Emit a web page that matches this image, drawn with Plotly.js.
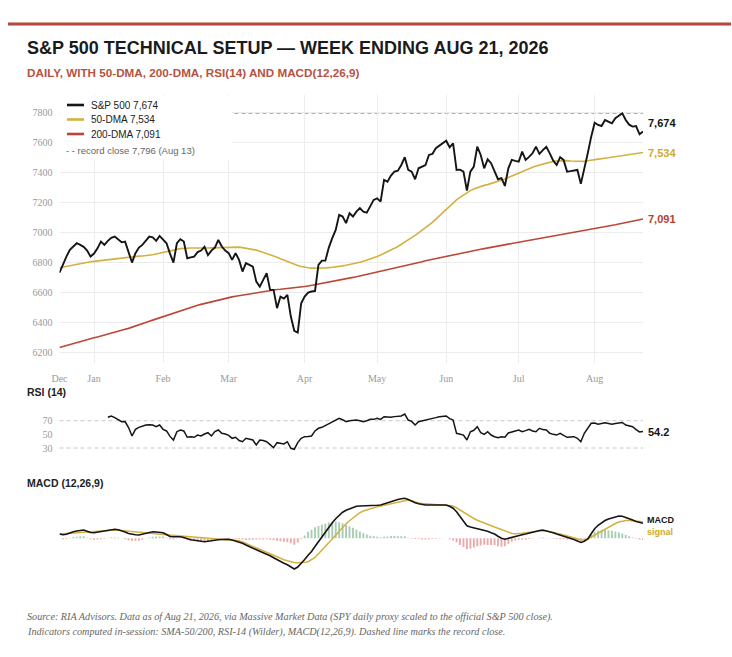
<!DOCTYPE html>
<html>
<head>
<meta charset="utf-8">
<script src="https://cdn.plot.ly/plotly-3.0.1.min.js"></script>
<style>
html,body{margin:0;padding:0;background:#fff;}
#chart{width:732px;height:657px;}
</style>
</head>
<body>
<div id="chart"></div>
<script>
// ---------- DATA ----------
const monthTicks = [0, 10, 30, 49, 71, 92, 112, 133, 155];
const monthLabels = ['Dec', 'Jan', 'Feb', 'Mar', 'Apr', 'May', 'Jun', 'Jul', 'Aug'];
const priceTicks = [6200, 6400, 6600, 6800, 7000, 7200, 7400, 7600, 7800];
const rsiTicks = [30, 50, 70];
const rsiBands = [70, 30];
const recordClose = 7796;
const recordDate = 'Aug 13';

const price = [6733,6790,6840,6885,6905,6929,6918,6905,6880,6840,
6860,6895,6940,6918,6945,6965,6973,6955,6935,6940,
6870,6800,6863,6900,6918,6945,6973,6968,6945,6978,
6955,6929,6860,6800,6929,6956,6940,6829,6835,6840,
6870,6880,6905,6850,6880,6900,6951,6907,6880,6863,
6818,6863,6818,6740,6796,6785,6773,6673,6640,6685,
6729,6618,6618,6496,6573,6560,6585,6440,6345,6333,
6529,6573,6600,6607,6610,6785,6813,6813,6900,6963,
7018,7118,7107,7063,7129,7107,7140,7163,7140,7133,
7180,7218,7229,7207,7351,7340,7380,7407,7413,7451,
7503,7418,7407,7356,7429,7440,7451,7518,7525,7563,
7580,7596,7613,7569,7596,7418,7420,7407,7280,7407,
7440,7573,7518,7429,7489,7463,7410,7356,7363,7311,
7429,7485,7478,7473,7540,7485,7505,7529,7573,7525,
7550,7573,7529,7480,7451,7503,7485,7407,7410,7413,
7418,7325,7418,7529,7640,7733,7718,7711,7751,7740,
7729,7763,7780,7796,7751,7720,7707,7711,7656,7674];

const dma50 = [6765,6770,6775,6780,6785,6789,6793,6797,6801,6805,
6808,6811,6814,6817,6820,6822,6824,6827,6830,6833,
6837,6840,6841,6843,6844,6846,6847,6852,6857,6863,
6869,6873,6878,6883,6888,6893,6896,6897,6897,6897,
6896,6896,6896,6897,6898,6899,6900,6902,6903,6903,
6903,6903,6903,6900,6897,6893,6887,6883,6876,6869,
6862,6854,6845,6836,6826,6816,6806,6797,6789,6781,
6774,6768,6765,6763,6762,6762,6763,6764,6766,6768,
6771,6774,6778,6782,6786,6791,6796,6802,6809,6816,
6824,6832,6840,6850,6860,6871,6883,6895,6907,6921,
6936,6951,6966,6982,6998,7015,7032,7050,7068,7090,
7112,7135,7157,7178,7198,7218,7235,7251,7265,7280,
7291,7300,7308,7315,7320,7327,7335,7343,7351,7358,
7368,7378,7389,7400,7409,7418,7427,7436,7444,7451,
7458,7465,7471,7475,7478,7480,7480,7480,7478,7476,
7474,7473,7475,7479,7484,7487,7490,7493,7496,7499,
7503,7506,7510,7513,7516,7520,7524,7527,7531,7534];

const dma200 = [6233,6240,6246,6253,6259,6266,6272,6279,6285,6292,
6298,6304,6311,6317,6323,6330,6336,6342,6349,6355,
6361,6368,6376,6384,6392,6400,6408,6416,6424,6432,
6440,6448,6456,6464,6472,6480,6488,6496,6503,6509,
6515,6521,6527,6533,6539,6545,6550,6556,6562,6567,
6571,6575,6579,6583,6587,6591,6595,6599,6603,6607,
6611,6615,6618,6620,6622,6624,6627,6629,6631,6634,
6637,6640,6644,6648,6652,6656,6660,6664,6668,6672,
6676,6681,6686,6691,6696,6701,6706,6711,6716,6721,
6726,6731,6736,6741,6746,6751,6757,6762,6768,6773,
6779,6784,6790,6795,6801,6806,6812,6817,6823,6828,
6834,6839,6844,6848,6853,6857,6862,6866,6871,6875,
6880,6884,6889,6893,6898,6902,6907,6911,6915,6919,
6923,6927,6931,6935,6939,6943,6947,6951,6955,6959,
6963,6967,6971,6975,6979,6983,6987,6991,6995,6999,
7003,7007,7011,7016,7020,7025,7030,7034,7039,7043,
7048,7052,7057,7061,7066,7071,7076,7081,7086,7091];

// RSI(14): first value on the 15th session
const rsi = [75.0,76.9,74.5,72.1,68.5,68.8,
60,47.6,57.4,60.3,62,63.7,64.2,63.7,61.2,63.7,
57.4,55,47,41.7,53.9,56.4,55,45.7,46.5,45.7,
49.0,47.6,50.5,52.4,47.6,54,56.4,51.5,50.5,48.5,
44.2,45.7,41,39.2,44.2,42.5,41.7,34.4,41.7,41,
39.2,35,30.4,37.8,36.5,35.9,39.2,29.6,28.1,38,
44.2,46.6,47,47.6,55,58.9,60.3,63,66.2,69,
71.0,73.5,71.5,68.5,70,71,71,70,68.5,70,
72.1,72,73.5,72,75.9,75.5,75,76,76.9,77,
79.8,71,69,63.7,68.5,69.5,71,72,73.5,74.5,
75.9,76.2,76.9,73,71,51.5,50.5,49,41.7,53.9,
56,61.2,52.4,50,53.9,49,46.6,45,46.5,45.7,
52,53.9,55,56.4,53.9,55.5,57.4,55,53.9,58.9,
57,56.4,51.5,50,49,51.5,49,45.7,46.2,46.6,
44.2,39.2,51.5,58,66.2,66.5,65,66,67,66,
65,66,67,67.5,63.7,62,61.2,57,53.5,54.2];

const macd = [17,14,16,22,26,29,32,33,28,23,
22,24,26,29,33,35,36,34,31,25,
19,15,14,13,16,20,24,26,25,23,
22,15,7,6,7,6,3,-2,-6,-8,
-10,-12,-14,-12,-9,-7,-6,-5,-4,-4,
-7,-11,-14,-20,-27,-34,-41,-46,-52,-58,
-63,-70,-78,-86,-93,-100,-106,-114,-123,-115,
-101,-85,-68,-53,-33,-13,6,25,45,62,
78,92,104,112,118,124,128,129,129,129,
129,130,132,133,138,143,148,152,155,158,
160,155,148,142,138,134,133,133,133,133,
133,133,133,128,120,106,86,68,50,45,
42,40,37,34,28,22,17,8,0,-4,
0,5,9,12,14,17,21,25,28,31,
33,30,26,22,17,13,9,4,0,-5,
-11,-17,-12,-3,18,38,52,62,71,77,
82,86,89,88,84,79,73,67,62,60];

const signal = [17,18,19,20,21,23,24,25,26,27,
28,29,30,31,32,32,33,32,31,29,
27,25,24,23,22,21,21,20,18,16,
15,13,11,10,8,7,6,5,4,3,
2,1,0,-1,-2,-3,-4,-5,-5,-6,
-6,-7,-10,-15,-21,-28,-35,-41,-47,-53,
-59,-64,-70,-76,-81,-86,-90,-94,-97,-98,
-98,-96,-94,-87,-77,-62,-48,-33,-18,-4,
12,28,44,58,70,82,93,102,109,114,
119,122,126,129,132,136,139,143,147,150,
152,153,150,145,141,139,138,137,136,135,
134,134,133,132,129,122,113,103,94,86,
79,72,66,60,55,49,45,40,34,28,
22,19,18,18,20,22,24,26,28,29,
30,29,27,24,20,17,13,9,5,1,
-3,-6,-7,-3,5,13,22,30,38,45,
52,59,65,69,71,71,70,69,67,66];

// ---------- STYLE ----------
const W = 732, H = 657;
const px = v => v / W;
const py = v => 1 - v / H;
const BLACK = '#151515', GOLD = '#d3b140', RED = '#bd4636', RUST = '#b5473a';
const SANS = '"Liberation Sans", Arial, sans-serif';
const SERIF = '"Liberation Serif", "DejaVu Serif", serif';
const fmt = v => v.toLocaleString('en-US');
const fmt1 = v => v.toFixed(1);

const N = price.length;
const idx = price.map((_, i) => i);
const rsiX = rsi.map((_, i) => i + (N - rsi.length));
const hist = macd.map((m, i) => m - signal[i]);
const histColors = hist.map(h => h >= 0 ? 'rgba(110,172,128,0.6)' : 'rgba(222,112,112,0.6)');
const last = a => a[a.length - 1];

const traces = [
  {x: idx, y: dma200, xaxis: 'x', yaxis: 'y', mode: 'lines', name: '200-DMA',
   line: {color: RED, width: 1.6}, hoverinfo: 'skip'},
  {x: idx, y: dma50, xaxis: 'x', yaxis: 'y', mode: 'lines', name: '50-DMA',
   line: {color: GOLD, width: 1.6}, hoverinfo: 'skip'},
  {x: idx, y: price, xaxis: 'x', yaxis: 'y', mode: 'lines', name: 'S&P 500',
   line: {color: BLACK, width: 1.9}, hoverinfo: 'skip'},
  {x: rsiX, y: rsi, xaxis: 'x2', yaxis: 'y2', mode: 'lines', name: 'RSI (14)',
   line: {color: BLACK, width: 1.5}, hoverinfo: 'skip'},
  {x: idx, y: hist, xaxis: 'x3', yaxis: 'y3', type: 'bar', name: 'histogram',
   marker: {color: histColors, line: {width: 0}}, hoverinfo: 'skip'},
  {x: idx, y: signal, xaxis: 'x3', yaxis: 'y3', mode: 'lines', name: 'signal',
   line: {color: GOLD, width: 1.5}, hoverinfo: 'skip'},
  {x: idx, y: macd, xaxis: 'x3', yaxis: 'y3', mode: 'lines', name: 'MACD',
   line: {color: BLACK, width: 1.6}, hoverinfo: 'skip'}
];

const tickFont = {family: SERIF, size: 10, color: '#9a9a9a'};
const xDomain = [px(59.5), px(643)];

const legendRows = [
  {label: 'S&P 500 ' + fmt(last(price)), color: BLACK, y: 105},
  {label: '50-DMA ' + fmt(last(dma50)), color: GOLD, y: 119.5},
  {label: '200-DMA ' + fmt(last(dma200)), color: RED, y: 134}
];

const shapes = [
  {type: 'line', xref: 'paper', yref: 'paper', x0: px(8), x1: px(731), y0: py(24), y1: py(24),
   line: {color: RUST, width: 3}},
  {type: 'line', xref: 'x domain', yref: 'y', x0: 0, x1: 1, y0: recordClose, y1: recordClose,
   line: {color: '#b0b0b0', width: 1.2, dash: '4px,3px'}, layer: 'below'},
  {type: 'rect', xref: 'paper', yref: 'paper', x0: px(59.5), x1: px(232), y0: py(160), y1: py(96),
   fillcolor: '#ffffff', line: {width: 0}, layer: 'above'}
];
rsiBands.forEach(b => shapes.push({type: 'line', xref: 'x2 domain', yref: 'y2', x0: 0, x1: 1, y0: b, y1: b,
  line: {color: '#c8c8c8', width: 1, dash: '4px,3px'}, layer: 'below'}));
legendRows.forEach(r => shapes.push({type: 'line', xref: 'paper', yref: 'paper',
  x0: px(67), x1: px(84), y0: py(r.y), y1: py(r.y), line: {color: r.color, width: 2.6}, layer: 'above'}));

const ann = (text, x, y, font, extra) => Object.assign({text, x, y, xref: 'paper', yref: 'paper',
  xanchor: 'left', yanchor: 'middle', showarrow: false, font}, extra || {});

const annotations = [
  ann('<b>S&amp;P 500 TECHNICAL SETUP — WEEK ENDING AUG 21, 2026</b>', px(25), py(48),
      {family: SANS, size: 18, color: '#1b1b1b'}),
  ann('<b>DAILY, WITH 50-DMA, 200-DMA, RSI(14) AND MACD(12,26,9)</b>', px(25), py(72),
      {family: SANS, size: 11.7, color: '#b5533f'}),
  ann('- - record close ' + fmt(recordClose) + ' (' + recordDate + ')', px(64), py(150),
      {family: SANS, size: 9.5, color: '#666'}),
  ann('<b>RSI (14)</b>', px(25), py(392), {family: SANS, size: 10.5, color: '#222'}),
  ann('<b>MACD (12,26,9)</b>', px(25), py(483), {family: SANS, size: 10.5, color: '#222'}),
  ann('<i>Source: RIA Advisors. Data as of Aug 21, 2026, via Massive Market Data (SPY daily proxy scaled to the official S&amp;P 500 close).</i>',
      px(25), py(617), {family: SERIF, size: 10.2, color: '#666'}),
  ann('<i>Indicators computed in-session: SMA-50/200, RSI-14 (Wilder), MACD(12,26,9). Dashed line marks the record close.</i>',
      px(25), py(632), {family: SERIF, size: 10.2, color: '#666'}),
  // end labels
  {text: '<b>' + fmt(last(price)) + '</b>', x: N - 1, y: last(price), xref: 'x', yref: 'y',
   xanchor: 'left', yanchor: 'middle', xshift: 3, yshift: 9, showarrow: false,
   font: {family: SANS, size: 11, color: BLACK}},
  {text: '<b>' + fmt(last(dma50)) + '</b>', x: N - 1, y: last(dma50), xref: 'x', yref: 'y',
   xanchor: 'left', yanchor: 'middle', xshift: 3, showarrow: false,
   font: {family: SANS, size: 11, color: '#cfa92e'}},
  {text: '<b>' + fmt(last(dma200)) + '</b>', x: N - 1, y: last(dma200), xref: 'x', yref: 'y',
   xanchor: 'left', yanchor: 'middle', xshift: 3, showarrow: false,
   font: {family: SANS, size: 11, color: '#b73f2f'}},
  {text: '<b>' + fmt1(last(rsi)) + '</b>', x: N - 1, y: last(rsi), xref: 'x2', yref: 'y2',
   xanchor: 'left', yanchor: 'middle', xshift: 3, showarrow: false,
   font: {family: SANS, size: 11, color: BLACK}},
  {text: '<b>MACD</b>', x: N - 1, y: last(macd), xref: 'x3', yref: 'y3',
   xanchor: 'left', yanchor: 'middle', xshift: 3, yshift: 3, showarrow: false,
   font: {family: SANS, size: 9, color: BLACK}, borderpad: 0},
  {text: '<b>signal</b>', x: N - 1, y: last(signal), xref: 'x3', yref: 'y3',
   xanchor: 'left', yanchor: 'middle', xshift: 3, yshift: -10, showarrow: false,
   font: {family: SANS, size: 9, color: '#cfa92e'}, borderpad: 0}
];
legendRows.forEach(r => annotations.push(ann(r.label, px(89), py(r.y), {family: SANS, size: 10, color: '#222'})));

const layout = {
  width: W, height: H,
  margin: {l: 0, r: 0, t: 0, b: 0},
  paper_bgcolor: '#ffffff', plot_bgcolor: '#ffffff',
  showlegend: false,
  bargap: 0.45,
  xaxis: {domain: xDomain, anchor: 'y', range: [0, N - 1], tickmode: 'array',
    tickvals: monthTicks, ticktext: monthLabels, showgrid: true, gridcolor: '#ececec', gridwidth: 1,
    zeroline: false, showline: false, ticks: '', tickfont: tickFont, ticklabelstandoff: 8, fixedrange: true},
  yaxis: {domain: [py(363), py(95)], anchor: 'x', range: [6130, 7918], tickmode: 'array',
    tickvals: priceTicks, ticktext: priceTicks.map(String), showgrid: true, gridcolor: '#ececec', gridwidth: 1,
    zeroline: false, showline: false, ticks: '', tickfont: tickFont, ticklabelstandoff: 6, fixedrange: true},
  xaxis2: {domain: xDomain, anchor: 'y2', matches: 'x', showticklabels: false, showgrid: false,
    zeroline: false, showline: false, ticks: ''},
  yaxis2: {domain: [py(456), py(410)], anchor: 'x2', range: [18.3, 85.7], tickmode: 'array',
    tickvals: rsiTicks, ticktext: rsiTicks.map(String), showgrid: false, zeroline: false, showline: false,
    ticks: '', tickfont: tickFont, ticklabelstandoff: 6},
  xaxis3: {domain: xDomain, anchor: 'y3', matches: 'x', showticklabels: false, showgrid: false,
    zeroline: false, showline: false, ticks: ''},
  yaxis3: {domain: [py(575), py(490)], anchor: 'x3', range: [-147, 193], showticklabels: false,
    showgrid: false, zeroline: false, showline: false, ticks: ''},
  shapes: shapes,
  annotations: annotations
};

Plotly.newPlot('chart', traces, layout, {displayModeBar: false, staticPlot: true});
</script>
</body>
</html>
